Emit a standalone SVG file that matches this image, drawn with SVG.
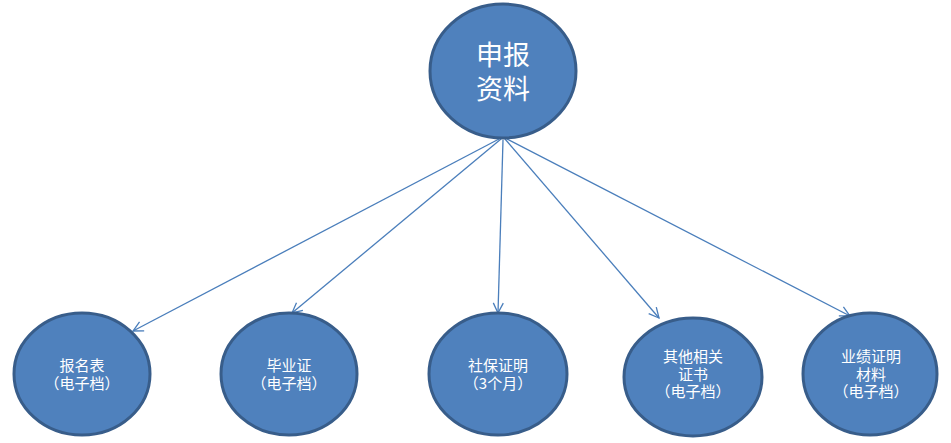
<svg xmlns="http://www.w3.org/2000/svg" width="951" height="443" viewBox="0 0 951 443">
<style>
.node ellipse{fill:#4f81bd;stroke:#385d8a;stroke-width:3}
.node text{fill:#fff;font-family:"Noto Sans CJK SC","Liberation Sans",sans-serif;text-anchor:middle}
.s{font-size:15px}
.b{font-size:27px}
.conn line{stroke:#4a7ebb;stroke-width:1.3;fill:none}
</style>
<defs>
<marker id="arr" viewBox="0 0 12 12" refX="11" refY="6" markerWidth="12" markerHeight="12" markerUnits="userSpaceOnUse" orient="auto">
<path d="M1,1 L11,6 L1,11" fill="none" stroke="#4a7ebb" stroke-width="1.3"/>
</marker>
</defs>
<rect width="951" height="443" fill="#fff"/>
<g id="connectors" class="conn">
<line x1="499" y1="139" x2="133" y2="331" marker-end="url(#arr)"/>
<line x1="501" y1="139" x2="292" y2="313" marker-end="url(#arr)"/>
<line x1="503" y1="140" x2="498" y2="313" marker-end="url(#arr)"/>
<line x1="505" y1="139" x2="659" y2="318" marker-end="url(#arr)"/>
<line x1="507" y1="139" x2="850" y2="316" marker-end="url(#arr)"/>
</g>
<g id="root" class="node">
<ellipse cx="503" cy="71" rx="73" ry="67"/>
<text class="b" x="503" y="65">申报<tspan x="503" dy="34">资料</tspan></text>
</g>
<g id="n1" class="node">
<ellipse cx="82" cy="374" rx="68" ry="61"/>
<text class="s" x="82" y="371">报名表<tspan x="82" dy="18">（电子档）</tspan></text>
</g>
<g id="n2" class="node">
<ellipse cx="289" cy="374" rx="68" ry="61"/>
<text class="s" x="289" y="371">毕业证<tspan x="289" dy="18">（电子档）</tspan></text>
</g>
<g id="n3" class="node">
<ellipse cx="498" cy="374" rx="69" ry="61"/>
<text class="s" x="498" y="371">社保证明<tspan x="498" dy="18">（3个月）</tspan></text>
</g>
<g id="n4" class="node">
<ellipse cx="693" cy="377" rx="69" ry="59"/>
<text class="s" x="693" y="362">其他相关<tspan x="693" dy="18">证书</tspan><tspan x="693" dy="17">（电子档）</tspan></text>
</g>
<g id="n5" class="node">
<ellipse cx="870" cy="374" rx="67" ry="61"/>
<text class="s" x="871" y="362">业绩证明<tspan x="871" dy="18">材料</tspan><tspan x="871" dy="17">（电子档）</tspan></text>
</g>
</svg>
